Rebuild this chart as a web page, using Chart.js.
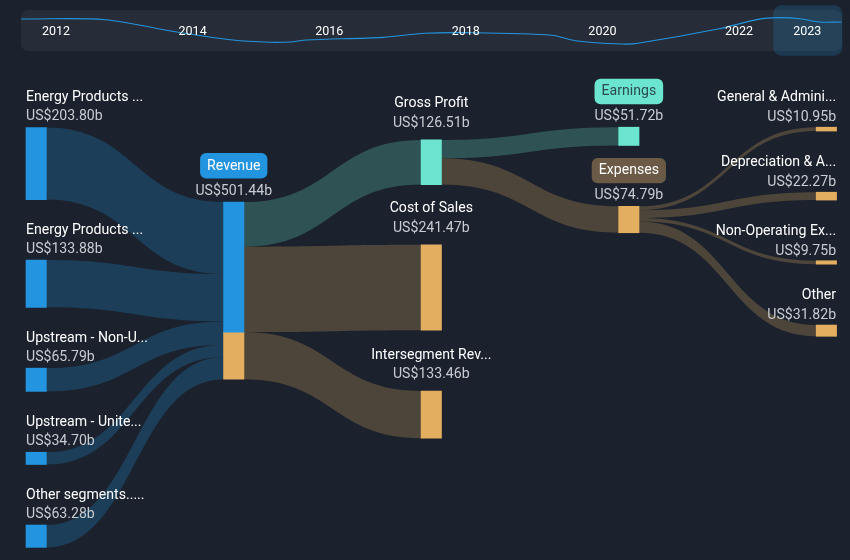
<!DOCTYPE html>
<html>
<head>
<meta charset="utf-8">
<title>Revenue breakdown</title>
<script src="https://cdn.jsdelivr.net/npm/chart.js@4"></script>
<style>
  html, body { margin: 0; padding: 0; background: #1b222d; }
  canvas { display: block; }
</style>
</head>
<body>
<canvas id="chart" width="850" height="560"></canvas>
<script>
// values in US$ billions
const nodeNames = [
  'Energy Products ...', 'Energy Products ...', 'Upstream - Non-U...', 'Upstream - Unite...', 'Other segments.....',
  'Revenue',
  'Gross Profit', 'Cost of Sales', 'Intersegment Rev...',
  'Earnings', 'Expenses',
  'General & Admini...', 'Depreciation & A...', 'Non-Operating Ex...', 'Other',
];
const nodeValues = [203.80, 133.88, 65.79, 34.70, 63.28, 501.44, 126.51, 241.47, 133.46, 51.72, 74.79, 10.95, 22.27, 9.75, 31.82];
const nodeColumns = [0, 0, 0, 0, 0, 1, 2, 2, 2, 3, 3, 4, 4, 4, 4];

const linkFrom = [0, 1, 2, 3, 4, 5, 5, 5, 6, 6, 10, 10, 10, 10];
const linkTo = [5, 5, 5, 5, 5, 6, 7, 8, 9, 10, 11, 12, 13, 14];
const linkValues = [203.80, 133.88, 65.79, 34.70, 63.28, 126.51, 241.47, 133.46, 51.72, 74.79, 10.95, 22.27, 9.75, 31.82];

const timelineYears = [2011.49, 2012.72, 2013.77, 2014.59, 2015.13, 2015.43, 2015.67, 2016.79, 2017.4, 2017.99, 2019.26, 2019.6, 2020.29, 2020.52, 2021.69, 2022.28, 2022.57, 2022.89, 2023.18, 2023.5];
const timelineRevenue = [534, 526, 394, 308, 284, 287, 308, 337, 380, 387, 359, 301, 265, 273, 426, 530, 548, 537, 501, 501];
const timelineTicks = [2012, 2014, 2016, 2018, 2020, 2022, 2023];

// layout, kept apart from the data: top of each node on the y axis (same unit as the values)
const nodeTops = [361, 736, 1042, 1280, 1486, 572, 396, 693, 1107, 360, 584, 360, 544, 738, 920];
const nodeKinds = ['blue', 'blue', 'blue', 'blue', 'blue', 'blue', 'teal', 'orange', 'orange', 'teal', 'orange', 'orange', 'orange', 'orange', 'orange'];
const linkKinds = ['blue', 'blue', 'blue', 'blue', 'blue', 'teal', 'orange', 'orange', 'teal', 'orange', 'orange', 'orange', 'orange', 'orange'];
const colors = { blue: '#2394df', teal: '#6ce5d0', orange: '#e3ae5f' };
const ribbonColors = { blue: 'rgba(35,148,223,0.25)', teal: 'rgba(108,229,208,0.25)', orange: 'rgba(227,174,95,0.25)' };
const badges = {
  Revenue: { fill: '#2394df', text: '#ffffff' },
  Earnings: { fill: '#6ce5d0', text: '#2c4a50' },
  Expenses: { fill: '#6b5a45', text: '#ffffff' },
};
const labelOffsets = [[-30, -11], [-36, -11], [-36, -16.3], [-35.4, -10.7], [-29.7, -9.5]];
const NODE_WIDTH = 20.4;

function nodeBars(kind) {
  const bars = [];
  nodeValues.forEach((value, i) => {
    if (i === 5) return;
    if (nodeKinds[i] === kind) bars.push({ x: nodeColumns[i], y: [nodeTops[i], nodeTops[i] + value] });
  });
  return bars;
}

// revenue node is split: the part that goes on as intersegment revenue is orange
const revenueSplit = nodeTops[5] + linkValues[5] + linkValues[6];
const blueBars = nodeBars('blue').concat([{ x: 1, y: [nodeTops[5], revenueSplit] }]);
const orangeBars = nodeBars('orange').concat([{ x: 1, y: [revenueSplit, nodeTops[5] + nodeValues[5]] }]);
const tealBars = nodeBars('teal');

const timelinePoints = timelineYears.map((year, i) => ({ x: year, y: timelineRevenue[i] }));

function roundBox(ctx, x, y, w, h, r, fill) {
  ctx.beginPath();
  ctx.roundRect(x, y, w, h, r);
  ctx.fillStyle = fill;
  ctx.fill();
}

const backdropPlugin = {
  id: 'backdrop',
  beforeDatasetsDraw(chart) {
    const ctx = chart.ctx;
    const x = chart.scales.x;
    const y = chart.scales.y;
    ctx.save();

    // timeline strip
    roundBox(ctx, 21, 10, 821, 41, 7, '#262d38');
    roundBox(ctx, 773.3, 5.3, 69, 50.4, 8, 'rgba(35,148,223,0.2)');

    // ribbons, stacked on each node in link order
    const outUsed = nodeValues.map(() => 0);
    const inUsed = nodeValues.map(() => 0);
    linkValues.forEach((value, i) => {
      const from = linkFrom[i];
      const to = linkTo[i];
      const x0 = x.getPixelForValue(nodeColumns[from]) + NODE_WIDTH / 2;
      const x1 = x.getPixelForValue(nodeColumns[to]) - NODE_WIDTH / 2;
      const xm = (x0 + x1) / 2;
      const a0 = y.getPixelForValue(nodeTops[from] + outUsed[from]);
      const a1 = y.getPixelForValue(nodeTops[from] + outUsed[from] + value);
      const b0 = y.getPixelForValue(nodeTops[to] + inUsed[to]);
      const b1 = y.getPixelForValue(nodeTops[to] + inUsed[to] + value);
      outUsed[from] += value;
      inUsed[to] += value;
      ctx.beginPath();
      ctx.moveTo(x0, a0);
      ctx.bezierCurveTo(xm, a0, xm, b0, x1, b0);
      ctx.lineTo(x1, b1);
      ctx.bezierCurveTo(xm, b1, xm, a1, x0, a1);
      ctx.closePath();
      ctx.fillStyle = ribbonColors[linkKinds[i]];
      ctx.fill();
    });
    ctx.restore();
  },
  afterDatasetsDraw(chart) {
    const ctx = chart.ctx;
    const x = chart.scales.x;
    const y = chart.scales.y;
    ctx.save();
    ctx.textBaseline = 'middle';

    // year labels
    ctx.font = '12.5px Roboto';
    ctx.textAlign = 'center';
    ctx.fillStyle = '#ffffff';
    timelineTicks.forEach(year => {
      ctx.fillText(String(year), chart.scales.x2.getPixelForValue(year), 32);
    });

    // node labels
    ctx.font = '14.1px Roboto';
    nodeNames.forEach((name, i) => {
      const col = nodeColumns[i];
      const top = y.getPixelForValue(nodeTops[i]);
      let tx = x.getPixelForValue(col);
      let align = 'center';
      if (col === 0) { tx -= NODE_WIDTH / 2; align = 'left'; }
      if (col === 4) { tx += NODE_WIDTH / 2 - 0.5; align = 'right'; }
      ctx.textAlign = align;
      const badge = badges[name];
      if (badge) {
        const w = ctx.measureText(name).width + 14;
        roundBox(ctx, tx - w / 2, top + labelOffsets[col][0] - 13, w, 25.4, 6, badge.fill);
      }
      ctx.fillStyle = badge ? badge.text : '#ffffff';
      ctx.fillText(name, tx, top + labelOffsets[col][0]);
      ctx.fillStyle = '#c8ccd2';
      ctx.fillText('US$' + nodeValues[i].toFixed(2) + 'b', tx, top + labelOffsets[col][1]);
    });
    ctx.restore();
  },
};

new Chart(document.getElementById('chart'), {
  type: 'bar',
  data: {
    datasets: [
      { data: blueBars, backgroundColor: colors.blue, barThickness: NODE_WIDTH, grouped: false },
      { data: orangeBars, backgroundColor: colors.orange, barThickness: NODE_WIDTH, grouped: false },
      { data: tealBars, backgroundColor: colors.teal, barThickness: NODE_WIDTH, grouped: false },
      {
        type: 'line',
        data: timelinePoints,
        xAxisID: 'x2',
        yAxisID: 'y2',
        borderColor: colors.blue,
        borderWidth: 1.1,
        pointRadius: 0,
        tension: 0.3,
      },
    ],
  },
  options: {
    responsive: false,
    animation: false,
    devicePixelRatio: 1,
    layout: { padding: 0 },
    plugins: { legend: { display: false }, tooltip: { enabled: false } },
    scales: {
      // sankey: columns across, US$b down
      x: { type: 'linear', display: false, min: -0.1832, max: 4.1195, offset: false },
      y: { type: 'linear', display: false, reverse: true, min: 0, max: 1585 },
      // timeline strip shares the canvas, so its axes run past the strip
      x2: { type: 'linear', display: false, min: 2011.18, max: 2023.625, offset: false },
      y2: { type: 'linear', display: false, min: -5271, max: 737.5 },
    },
  },
  plugins: [backdropPlugin],
});
</script>
</body>
</html>
